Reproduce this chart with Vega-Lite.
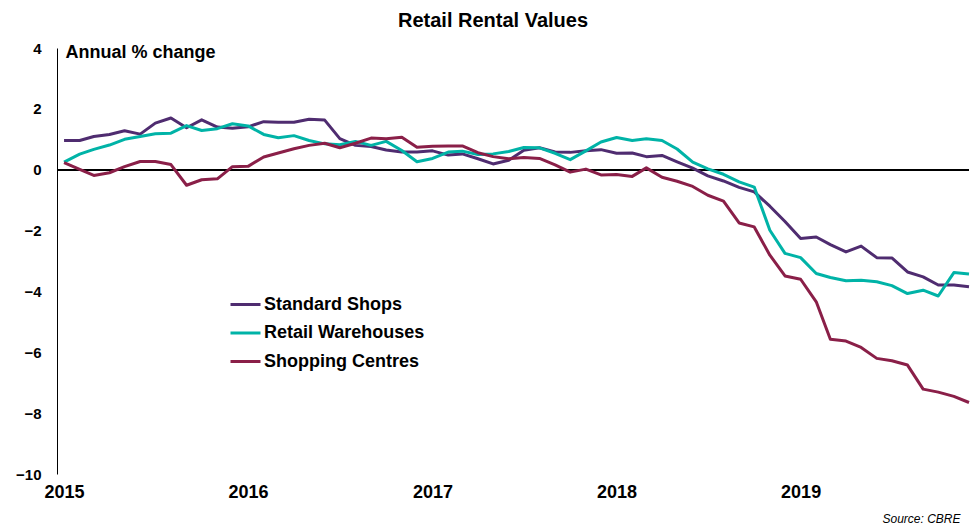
{
  "$schema": "https://vega.github.io/schema/vega-lite/v6.json",
  "width": 912,
  "height": 426,
  "autosize": {"type": "pad"},
  "padding": {"left": 15, "top": 11, "right": 0, "bottom": 0},
  "background": "white",
  "title": {"text": "Retail Rental Values", "fontSize": 20, "fontWeight": "bold", "font": "Liberation Sans", "color": "#000000", "anchor": "middle", "frame": "bounds", "offset": 10},
  "config": {"view": {"stroke": null}, "font": "Liberation Sans"},
  "data": {"values": [
    {"d":"2015-01-01","s":"Standard Shops","v":0.96},{"d":"2015-02-01","s":"Standard Shops","v":0.96},{"d":"2015-03-01","s":"Standard Shops","v":1.09},{"d":"2015-04-01","s":"Standard Shops","v":1.16},{"d":"2015-05-01","s":"Standard Shops","v":1.28},{"d":"2015-06-01","s":"Standard Shops","v":1.17},{"d":"2015-07-01","s":"Standard Shops","v":1.53},{"d":"2015-08-01","s":"Standard Shops","v":1.70},{"d":"2015-09-01","s":"Standard Shops","v":1.38},{"d":"2015-10-01","s":"Standard Shops","v":1.64},{"d":"2015-11-01","s":"Standard Shops","v":1.40},{"d":"2015-12-01","s":"Standard Shops","v":1.36},
    {"d":"2016-01-01","s":"Standard Shops","v":1.41},{"d":"2016-02-01","s":"Standard Shops","v":1.58},{"d":"2016-03-01","s":"Standard Shops","v":1.56},{"d":"2016-04-01","s":"Standard Shops","v":1.56},{"d":"2016-05-01","s":"Standard Shops","v":1.66},{"d":"2016-06-01","s":"Standard Shops","v":1.63},{"d":"2016-07-01","s":"Standard Shops","v":1.02},{"d":"2016-08-01","s":"Standard Shops","v":0.80},{"d":"2016-09-01","s":"Standard Shops","v":0.76},{"d":"2016-10-01","s":"Standard Shops","v":0.65},{"d":"2016-11-01","s":"Standard Shops","v":0.58},{"d":"2016-12-01","s":"Standard Shops","v":0.58},
    {"d":"2017-01-01","s":"Standard Shops","v":0.62},{"d":"2017-02-01","s":"Standard Shops","v":0.48},{"d":"2017-03-01","s":"Standard Shops","v":0.52},{"d":"2017-04-01","s":"Standard Shops","v":0.36},{"d":"2017-05-01","s":"Standard Shops","v":0.19},{"d":"2017-06-01","s":"Standard Shops","v":0.31},{"d":"2017-07-01","s":"Standard Shops","v":0.64},{"d":"2017-08-01","s":"Standard Shops","v":0.72},{"d":"2017-09-01","s":"Standard Shops","v":0.58},{"d":"2017-10-01","s":"Standard Shops","v":0.57},{"d":"2017-11-01","s":"Standard Shops","v":0.62},{"d":"2017-12-01","s":"Standard Shops","v":0.66},
    {"d":"2018-01-01","s":"Standard Shops","v":0.54},{"d":"2018-02-01","s":"Standard Shops","v":0.55},{"d":"2018-03-01","s":"Standard Shops","v":0.43},{"d":"2018-04-01","s":"Standard Shops","v":0.47},{"d":"2018-05-01","s":"Standard Shops","v":0.26},{"d":"2018-06-01","s":"Standard Shops","v":0.05},{"d":"2018-07-01","s":"Standard Shops","v":-0.20},{"d":"2018-08-01","s":"Standard Shops","v":-0.37},{"d":"2018-09-01","s":"Standard Shops","v":-0.58},{"d":"2018-10-01","s":"Standard Shops","v":-0.73},{"d":"2018-11-01","s":"Standard Shops","v":-1.20},{"d":"2018-12-01","s":"Standard Shops","v":-1.70},
    {"d":"2019-01-01","s":"Standard Shops","v":-2.26},{"d":"2019-02-01","s":"Standard Shops","v":-2.21},{"d":"2019-03-01","s":"Standard Shops","v":-2.46},{"d":"2019-04-01","s":"Standard Shops","v":-2.70},{"d":"2019-05-01","s":"Standard Shops","v":-2.51},{"d":"2019-06-01","s":"Standard Shops","v":-2.89},{"d":"2019-07-01","s":"Standard Shops","v":-2.90},{"d":"2019-08-01","s":"Standard Shops","v":-3.36},{"d":"2019-09-01","s":"Standard Shops","v":-3.52},{"d":"2019-10-01","s":"Standard Shops","v":-3.79},{"d":"2019-11-01","s":"Standard Shops","v":-3.79},{"d":"2019-12-01","s":"Standard Shops","v":-3.85},
    {"d":"2015-01-01","s":"Retail Warehouses","v":0.25},{"d":"2015-02-01","s":"Retail Warehouses","v":0.51},{"d":"2015-03-01","s":"Retail Warehouses","v":0.67},{"d":"2015-04-01","s":"Retail Warehouses","v":0.81},{"d":"2015-05-01","s":"Retail Warehouses","v":1.00},{"d":"2015-06-01","s":"Retail Warehouses","v":1.09},{"d":"2015-07-01","s":"Retail Warehouses","v":1.18},{"d":"2015-08-01","s":"Retail Warehouses","v":1.20},{"d":"2015-09-01","s":"Retail Warehouses","v":1.45},{"d":"2015-10-01","s":"Retail Warehouses","v":1.29},{"d":"2015-11-01","s":"Retail Warehouses","v":1.35},{"d":"2015-12-01","s":"Retail Warehouses","v":1.51},
    {"d":"2016-01-01","s":"Retail Warehouses","v":1.44},{"d":"2016-02-01","s":"Retail Warehouses","v":1.16},{"d":"2016-03-01","s":"Retail Warehouses","v":1.05},{"d":"2016-04-01","s":"Retail Warehouses","v":1.12},{"d":"2016-05-01","s":"Retail Warehouses","v":0.96},{"d":"2016-06-01","s":"Retail Warehouses","v":0.85},{"d":"2016-07-01","s":"Retail Warehouses","v":0.82},{"d":"2016-08-01","s":"Retail Warehouses","v":0.93},{"d":"2016-09-01","s":"Retail Warehouses","v":0.80},{"d":"2016-10-01","s":"Retail Warehouses","v":0.93},{"d":"2016-11-01","s":"Retail Warehouses","v":0.63},{"d":"2016-12-01","s":"Retail Warehouses","v":0.26},
    {"d":"2017-01-01","s":"Retail Warehouses","v":0.37},{"d":"2017-02-01","s":"Retail Warehouses","v":0.58},{"d":"2017-03-01","s":"Retail Warehouses","v":0.61},{"d":"2017-04-01","s":"Retail Warehouses","v":0.50},{"d":"2017-05-01","s":"Retail Warehouses","v":0.52},{"d":"2017-06-01","s":"Retail Warehouses","v":0.60},{"d":"2017-07-01","s":"Retail Warehouses","v":0.73},{"d":"2017-08-01","s":"Retail Warehouses","v":0.72},{"d":"2017-09-01","s":"Retail Warehouses","v":0.54},{"d":"2017-10-01","s":"Retail Warehouses","v":0.33},{"d":"2017-11-01","s":"Retail Warehouses","v":0.62},{"d":"2017-12-01","s":"Retail Warehouses","v":0.91},
    {"d":"2018-01-01","s":"Retail Warehouses","v":1.06},{"d":"2018-02-01","s":"Retail Warehouses","v":0.96},{"d":"2018-03-01","s":"Retail Warehouses","v":1.02},{"d":"2018-04-01","s":"Retail Warehouses","v":0.96},{"d":"2018-05-01","s":"Retail Warehouses","v":0.68},{"d":"2018-06-01","s":"Retail Warehouses","v":0.25},{"d":"2018-07-01","s":"Retail Warehouses","v":0.03},{"d":"2018-08-01","s":"Retail Warehouses","v":-0.15},{"d":"2018-09-01","s":"Retail Warehouses","v":-0.40},{"d":"2018-10-01","s":"Retail Warehouses","v":-0.57},{"d":"2018-11-01","s":"Retail Warehouses","v":-1.99},{"d":"2018-12-01","s":"Retail Warehouses","v":-2.75},
    {"d":"2019-01-01","s":"Retail Warehouses","v":-2.89},{"d":"2019-02-01","s":"Retail Warehouses","v":-3.41},{"d":"2019-03-01","s":"Retail Warehouses","v":-3.54},{"d":"2019-04-01","s":"Retail Warehouses","v":-3.65},{"d":"2019-05-01","s":"Retail Warehouses","v":-3.63},{"d":"2019-06-01","s":"Retail Warehouses","v":-3.68},{"d":"2019-07-01","s":"Retail Warehouses","v":-3.81},{"d":"2019-08-01","s":"Retail Warehouses","v":-4.07},{"d":"2019-09-01","s":"Retail Warehouses","v":-3.96},{"d":"2019-10-01","s":"Retail Warehouses","v":-4.15},{"d":"2019-11-01","s":"Retail Warehouses","v":-3.38},{"d":"2019-12-01","s":"Retail Warehouses","v":-3.43},
    {"d":"2015-01-01","s":"Shopping Centres","v":0.23},{"d":"2015-02-01","s":"Shopping Centres","v":0.01},{"d":"2015-03-01","s":"Shopping Centres","v":-0.19},{"d":"2015-04-01","s":"Shopping Centres","v":-0.10},{"d":"2015-05-01","s":"Shopping Centres","v":0.10},{"d":"2015-06-01","s":"Shopping Centres","v":0.27},{"d":"2015-07-01","s":"Shopping Centres","v":0.27},{"d":"2015-08-01","s":"Shopping Centres","v":0.17},{"d":"2015-09-01","s":"Shopping Centres","v":-0.51},{"d":"2015-10-01","s":"Shopping Centres","v":-0.33},{"d":"2015-11-01","s":"Shopping Centres","v":-0.30},{"d":"2015-12-01","s":"Shopping Centres","v":0.10},
    {"d":"2016-01-01","s":"Shopping Centres","v":0.11},{"d":"2016-02-01","s":"Shopping Centres","v":0.42},{"d":"2016-03-01","s":"Shopping Centres","v":0.55},{"d":"2016-04-01","s":"Shopping Centres","v":0.69},{"d":"2016-05-01","s":"Shopping Centres","v":0.80},{"d":"2016-06-01","s":"Shopping Centres","v":0.87},{"d":"2016-07-01","s":"Shopping Centres","v":0.72},{"d":"2016-08-01","s":"Shopping Centres","v":0.87},{"d":"2016-09-01","s":"Shopping Centres","v":1.04},{"d":"2016-10-01","s":"Shopping Centres","v":1.02},{"d":"2016-11-01","s":"Shopping Centres","v":1.07},{"d":"2016-12-01","s":"Shopping Centres","v":0.74},
    {"d":"2017-01-01","s":"Shopping Centres","v":0.77},{"d":"2017-02-01","s":"Shopping Centres","v":0.78},{"d":"2017-03-01","s":"Shopping Centres","v":0.78},{"d":"2017-04-01","s":"Shopping Centres","v":0.56},{"d":"2017-05-01","s":"Shopping Centres","v":0.43},{"d":"2017-06-01","s":"Shopping Centres","v":0.36},{"d":"2017-07-01","s":"Shopping Centres","v":0.40},{"d":"2017-08-01","s":"Shopping Centres","v":0.37},{"d":"2017-09-01","s":"Shopping Centres","v":0.16},{"d":"2017-10-01","s":"Shopping Centres","v":-0.08},{"d":"2017-11-01","s":"Shopping Centres","v":0.02},{"d":"2017-12-01","s":"Shopping Centres","v":-0.17},
    {"d":"2018-01-01","s":"Shopping Centres","v":-0.16},{"d":"2018-02-01","s":"Shopping Centres","v":-0.22},{"d":"2018-03-01","s":"Shopping Centres","v":0.06},{"d":"2018-04-01","s":"Shopping Centres","v":-0.25},{"d":"2018-05-01","s":"Shopping Centres","v":-0.38},{"d":"2018-06-01","s":"Shopping Centres","v":-0.55},{"d":"2018-07-01","s":"Shopping Centres","v":-0.84},{"d":"2018-08-01","s":"Shopping Centres","v":-1.03},{"d":"2018-09-01","s":"Shopping Centres","v":-1.75},{"d":"2018-10-01","s":"Shopping Centres","v":-1.88},{"d":"2018-11-01","s":"Shopping Centres","v":-2.81},{"d":"2018-12-01","s":"Shopping Centres","v":-3.49},
    {"d":"2019-01-01","s":"Shopping Centres","v":-3.60},{"d":"2019-02-01","s":"Shopping Centres","v":-4.34},{"d":"2019-03-01","s":"Shopping Centres","v":-5.57},{"d":"2019-04-01","s":"Shopping Centres","v":-5.63},{"d":"2019-05-01","s":"Shopping Centres","v":-5.84},{"d":"2019-06-01","s":"Shopping Centres","v":-6.20},{"d":"2019-07-01","s":"Shopping Centres","v":-6.28},{"d":"2019-08-01","s":"Shopping Centres","v":-6.42},{"d":"2019-09-01","s":"Shopping Centres","v":-7.21},{"d":"2019-10-01","s":"Shopping Centres","v":-7.31},{"d":"2019-11-01","s":"Shopping Centres","v":-7.45},{"d":"2019-12-01","s":"Shopping Centres","v":-7.65}
  ]},
  "layer": [
    {
      "mark": {"type": "rule", "color": "#000000", "strokeWidth": 1},
      "encoding": {"y": {"datum": 0, "type": "quantitative"}}
    },
    {
      "mark": {"type": "line", "strokeWidth": 3, "strokeJoin": "round"},
      "encoding": {
        "x": {
          "field": "d", "type": "temporal",
          "scale": {"type": "utc", "domain": [{"year": 2014, "month": 12, "date": 18, "utc": true}, {"year": 2019, "month": 12, "date": 1, "utc": true}]},
          "axis": {
            "values": [{"year": 2015, "month": 1, "date": 1, "utc": true}, {"year": 2016, "month": 1, "date": 1, "utc": true}, {"year": 2017, "month": 1, "date": 1, "utc": true}, {"year": 2018, "month": 1, "date": 1, "utc": true}, {"year": 2019, "month": 1, "date": 1, "utc": true}],
            "format": "%Y", "formatType": "utc",
            "domain": false, "ticks": false, "tickSize": 0, "grid": false,
            "labelFont": "Liberation Sans", "labelFontSize": 18, "labelFontWeight": "bold", "labelColor": "#000000",
            "labelPadding": 9, "labelFlush": false, "labelOverlap": false,
            "title": "Source: CBRE", "titleFont": "Liberation Sans", "titleFontSize": 12, "titleFontStyle": "italic", "titleFontWeight": "normal", "titleColor": "#000000",
            "titleAnchor": "end", "titleAlign": "right", "titleBaseline": "middle", "titleX": 903, "titleY": 44
          }
        },
        "y": {
          "field": "v", "type": "quantitative",
          "scale": {"domain": [-10, 4], "nice": false, "zero": false},
          "axis": {
            "values": [-10, -8, -6, -4, -2, 0, 2, 4],
            "domain": true, "domainColor": "#000000", "domainWidth": 1,
            "ticks": false, "tickSize": 0, "grid": false,
            "labelFont": "Liberation Sans", "labelFontSize": 15, "labelFontWeight": "bold", "labelColor": "#000000",
            "labelPadding": 16, "labelFlush": false, "labelOverlap": false,
            "title": "Annual % change", "titleAngle": 0, "titleAlign": "left", "titleBaseline": "middle",
            "titleX": 8, "titleY": 4, "titleFont": "Liberation Sans", "titleFontSize": 18, "titleFontWeight": "bold", "titleColor": "#000000"
          }
        },
        "color": {
          "field": "s", "type": "nominal",
          "scale": {"domain": ["Standard Shops", "Retail Warehouses", "Shopping Centres"], "range": ["#4F2C70", "#00B3A7", "#8A1F48"]},
          "legend": {
            "title": null, "orient": "none", "legendX": 172, "legendY": 240,
            "symbolType": "stroke", "symbolSize": 900, "symbolStrokeWidth": 3,
            "labelFont": "Liberation Sans", "labelFontSize": 18, "labelFontWeight": "bold", "labelColor": "#000000",
            "labelOffset": 2, "rowPadding": 2.5, "labelLimit": 400
          }
        }
      }
    }
  ]
}
